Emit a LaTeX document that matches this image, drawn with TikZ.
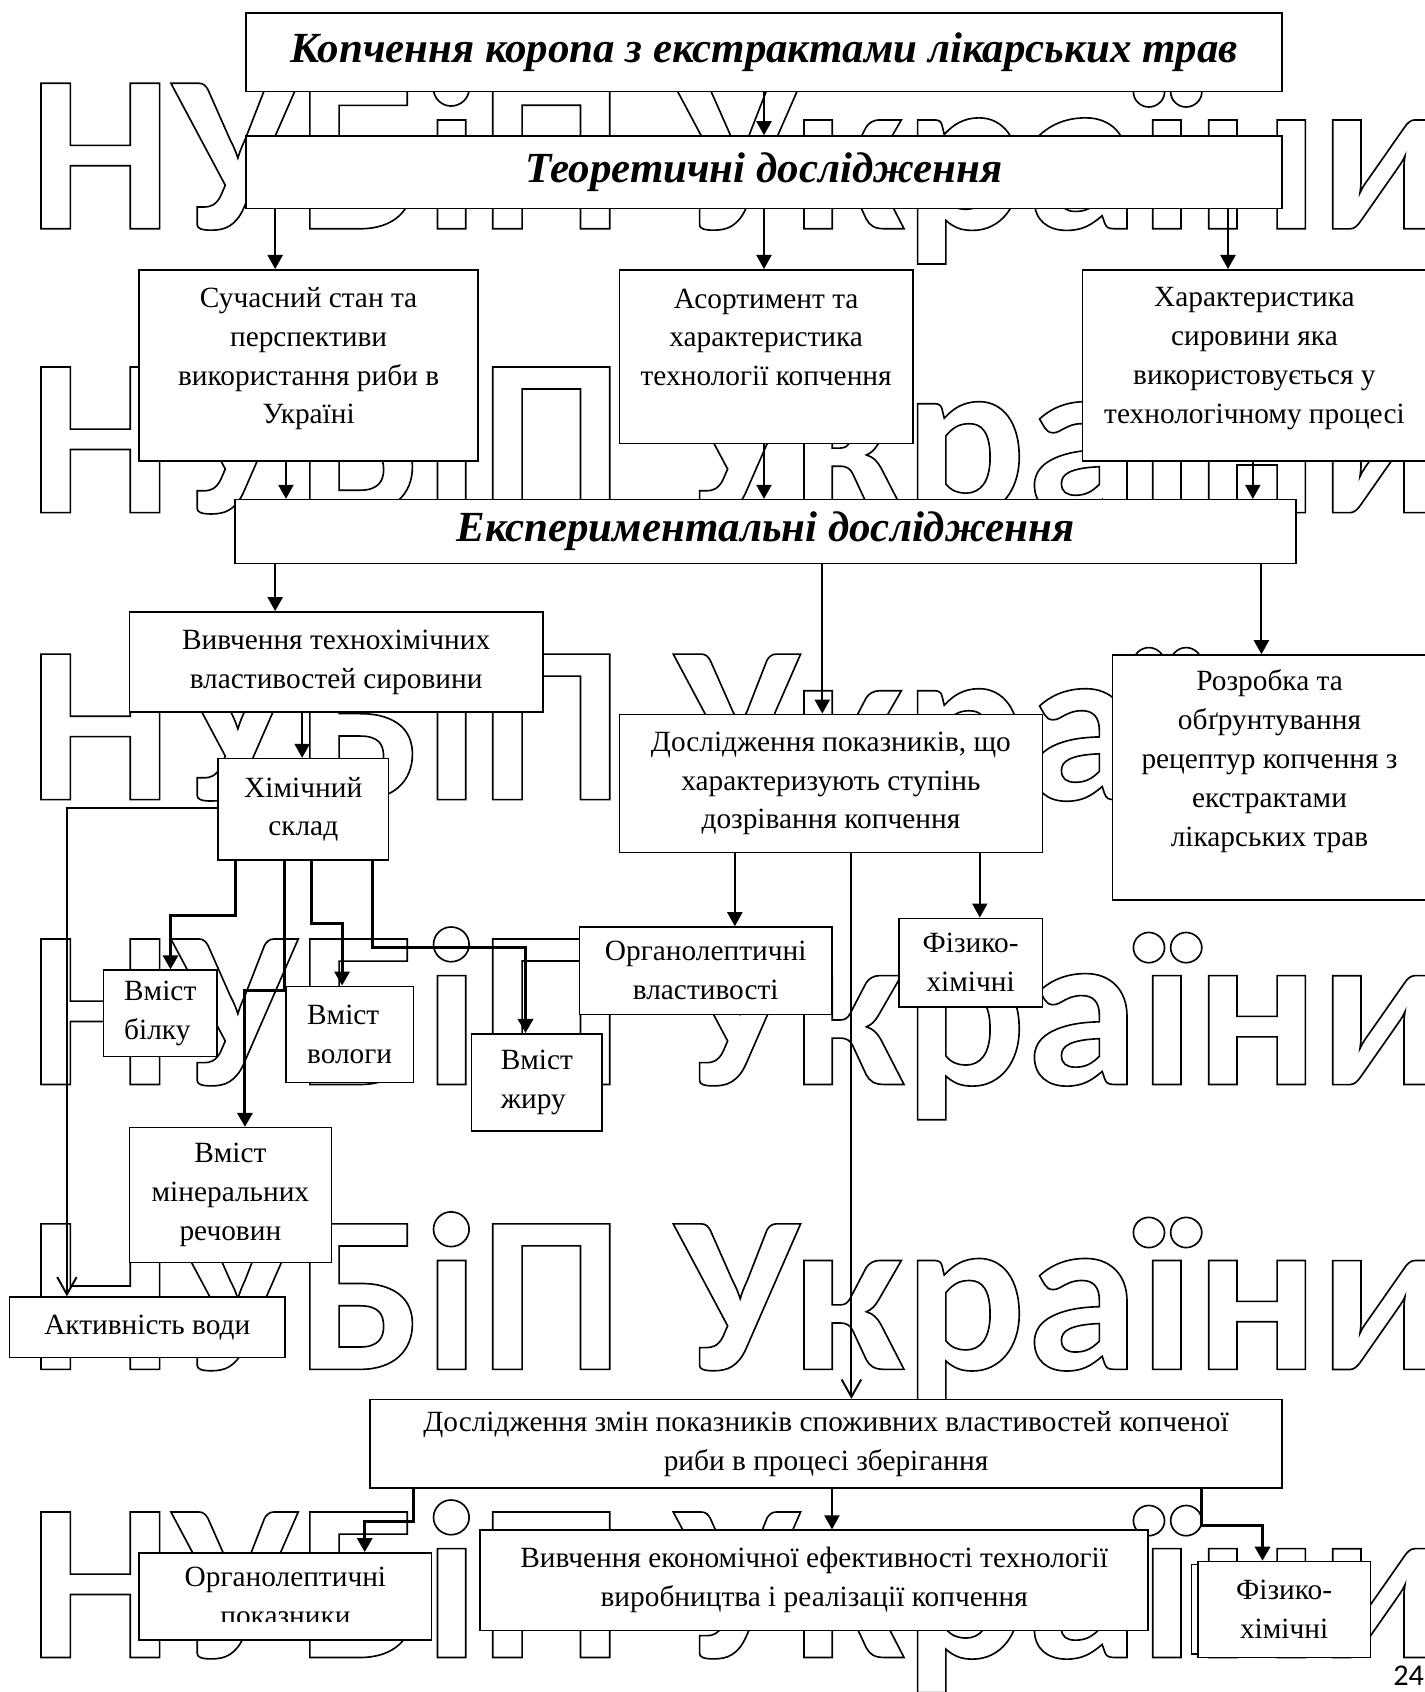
\documentclass[tikz,border=0pt]{standalone}
\usepackage{fontspec}
\setmainfont{Liberation Serif}
\newfontfamily\wmfont{Carlito}
\usetikzlibrary{arrows.meta}

\begin{document}
\begin{tikzpicture}[x=0.5pt, y=-0.5pt,
                txt/.style = {inner sep=0pt, align=center, font=\fontsize{13.6}{18}\selectfont},
                box/.style = {txt, draw, fill=white, line width=0.7pt},
                head/.style = {box, font=\bfseries\itshape\fontsize{19.9}{24}\selectfont},
                arr/.style = {-{Triangle[length=6.5pt,width=7pt]}, line width=0.9pt},
                arrb/.style = {arr, line width=1.4pt},
                barb/.style = {-{Straight Barb[length=8pt,width=9pt]}, line width=0.9pt},
                wm/.style = {anchor=base west, inner sep=0pt, font=\wmfont\bfseries\fontsize{104}{104}\selectfont}
            ]
\useasboundingbox (0,0) rectangle (1320,1568);
\foreach \y [count=\i] in {212,475,741,1005,1269,1536}
  \node[wm] (wm\i) at (26,\y) {\scalebox{1.015}[1]{\special{pdf:literal direct 1 Tr 0.75 w}НУБіП України\special{pdf:literal direct 0 Tr}}};
\node[anchor=base east, inner sep=0pt, font=\wmfont\fontsize{14}{14}\selectfont] (page) at (1320,1562) {24};

\node[head, minimum width=480pt, minimum height=36.5pt] (title) at (708,48.5) {Копчення коропа з екстрактами лікарських трав};
\node[head, minimum width=480pt, minimum height=33.5pt] (teor) at (708,159.5) {Теоретичні дослідження};
\node[box, minimum width=157pt, minimum height=88.5pt] (suchasnyi) at (286,338.5) {Сучасний стан та\\перспективи\\використання риби в\\Україні\\[-9pt]~};
\node[box, minimum width=136pt, minimum height=80.5pt] (asort) at (710,330.5) {Асортимент та\\характеристика\\технології копчення\\~};
\node[box, minimum width=159.5pt, minimum height=88.5pt] (kharakt) at (1162.5,338.5) {Характеристика\\сировини яка\\використовується у\\технологічному процесі\\[-9pt]~};
\node[head, minimum width=491.5pt, minimum height=29.5pt] (exper) at (709.5,492.5) {Експериментальні дослідження};
\node[box, minimum width=191.5pt, minimum height=46.5pt] (vyvch) at (311.5,613.5) {Вивчення технохімічних\\властивостей сировини};
\node[box, minimum width=79pt, minimum height=47pt] (khim) at (281,750) {Хімічний\\склад};
\node[box, minimum width=196pt, minimum height=64pt] (dosl) at (770,726) {Дослідження показників, що\\характеризують ступінь\\дозрівання копчення};
\node[box, minimum width=145.5pt, minimum height=113.5pt] (rozrobka) at (1176.5,720.5) {Розробка та\\обґрунтування\\рецептур копчення з\\екстрактами\\лікарських трав\\~};
\node[box, minimum width=117pt, minimum height=40.5pt] (orgvl) at (654,899.5) {Органолептичні\\властивості};
\node[box, minimum width=66.5pt, minimum height=41pt] (fizvl) at (899.5,892) {Фізико-\\хімічні};
\node[box, align=left, minimum width=52.5pt, minimum height=40pt] (bilok) at (148.5,939) {Вміст\\білку};
\node[box, align=left, minimum width=59pt, minimum height=44.5pt] (voloha) at (324,958.5) {Вміст\\вологи};
\node[box, align=left, minimum width=60.5pt, minimum height=45pt] (zhyr) at (497.5,1003) {Вміст\\жиру};
\node[box, minimum width=93.5pt, minimum height=62.5pt] (miner) at (213.5,1107.5) {Вміст\\мінеральних\\речовин};
\node[box, minimum width=127.5pt, minimum height=28pt] (aktyv) at (136.5,1230) {Активність води};
\node[box, minimum width=422.5pt, minimum height=41pt] (zmin) at (765.5,1338) {Дослідження змін показників споживних властивостей копченої\\риби в процесі зберігання};
\node[box, minimum width=135.5pt, minimum height=40.5pt] (orgpok) at (264.5,1479.5) {};
\begin{scope}
  \clip (129,1439) rectangle (400,1503);
  \node[txt] (orgpok-t) at (orgpok) {Органолептичні\\показники};
\end{scope}
\node[box, minimum width=309.5pt, minimum height=46.5pt] (ekon) at (754.5,1464.5) {Вивчення економічної ефективності технології\\виробництва і реалізації копчення};
\node[box, minimum width=48pt, minimum height=41.5pt] (fizpok-back) at (1152,1491.5) {};
\node[box, minimum width=80pt, minimum height=44.5pt] (fizpok) at (1190,1491.5) {Фізико-\\хімічні};

\draw[arr] (title.south -| 708,0) -- (teor.north -| 708,0);
\draw[arr] (teor.south -| 255,0) -- (suchasnyi.north -| 255,0);
\draw[arr] (teor.south -| 708,0) -- (asort.north -| 708,0);
\draw[arr] (teor.south -| 1138,0) -- (kharakt.north -| 1138,0);
\draw[arr] (suchasnyi.south -| 265,0) -- (exper.north -| 265,0);
\draw[arr] (asort.south -| 708,0) -- (exper.north -| 708,0);
\draw[arr] (kharakt.south -| 1161,0) -- (exper.north -| 1161,0);
\draw[arr] (exper.south -| 255,0) -- (vyvch.north -| 255,0);
\draw[arr] (exper.south -| 762,0) -- (dosl.north -| 762,0);
\draw[arr] (exper.south -| 1169,0) -- (rozrobka.north -| 1169,0);
\draw[arr] (vyvch.south -| 280,0) -- (khim.north -| 280,0);
\draw[barb] (khim.west |- 0,749) -| (aktyv.north -| 62,0);
\draw[arrb] (khim.south -| 218,0) |- (158,848) -- (bilok.north -| 158,0);
\draw[arrb] (khim.south -| 264,0) |- (227,918) -- (miner.north -| 227,0);
\draw[arrb] (khim.south -| 289,0) |- (317,856) -- (voloha.north -| 317,0);
\draw[arrb] (khim.south -| 345,0) |- (487,878) -- (zhyr.north -| 487,0);
\draw[arr] (dosl.south -| 681,0) -- (orgvl.north -| 681,0);
\draw[arr] (dosl.south -| 908,0) -- (fizvl.north -| 908,0);
\draw[barb] (dosl.south -| 789,0) -- (zmin.north -| 789,0);
\draw[arrb] (zmin.south -| 383,0) |- (338,1410) -- (orgpok.north -| 338,0);
\draw[arr] (zmin.south -| 771,0) -- (ekon.north -| 771,0);
\draw[arrb] (zmin.south -| 1113,0) |- (1170,1414) -- (fizpok.north -| 1170,0);
\end{tikzpicture}
\end{document}
